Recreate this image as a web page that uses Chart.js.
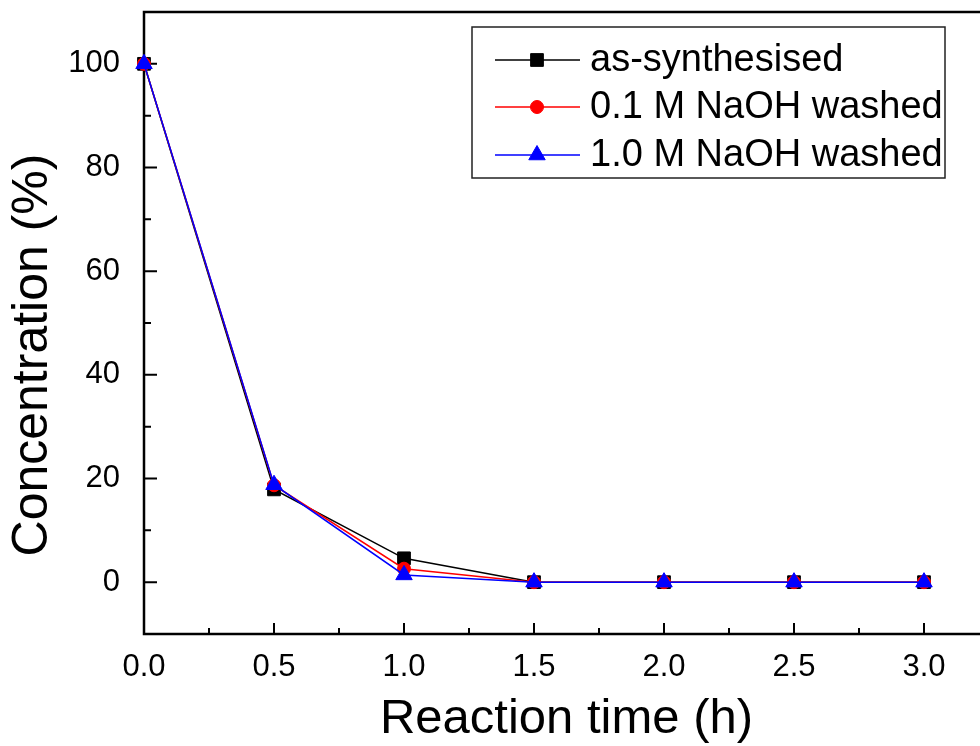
<!DOCTYPE html>
<html>
<head>
<meta charset="utf-8">
<script src="https://cdn.jsdelivr.net/npm/chart.js@4.4.0/dist/chart.umd.min.js"></script>
<style>
  html, body { margin: 0; padding: 0; background: #fff; overflow: hidden; }
  #wrap { width: 1000px; height: 746px; }
</style>
</head>
<body>
<div id="wrap"><canvas id="chart" width="1000" height="746"></canvas></div>
<script>
// reaction time (h) and remaining concentration (%)
const times = [0, 0.5, 1.0, 1.5, 2.0, 2.5, 3.0];
const asSynthesised = [100, 17.9, 4.6, 0, 0, 0, 0];
const naoh01Washed = [100, 18.7, 2.6, 0, 0, 0, 0];
const naoh10Washed = [100, 18.8, 1.4, 0, 0, 0, 0];
const seriesNames = ['as-synthesised', '0.1 M NaOH washed', '1.0 M NaOH washed'];

const xMajor = [0, 0.5, 1.0, 1.5, 2.0, 2.5, 3.0];
const xMinor = [0.25, 0.75, 1.25, 1.75, 2.25, 2.75, 3.25];
const yMajor = [0, 20, 40, 60, 80, 100];
const yMinor = [10, 30, 50, 70, 90];

const FONT = '"Liberation Sans", Arial, sans-serif';

const pts = (arr) => times.map((t, i) => ({ x: t, y: arr[i] }));

const frameTicks = {
  id: 'frameTicks',
  beforeDatasetsDraw(chart) {
    const { ctx, chartArea: a, scales: { x, y } } = chart;
    ctx.save();
    ctx.strokeStyle = '#000';
    ctx.lineWidth = 2.5;
    ctx.strokeRect(a.left, a.top, a.right - a.left, a.bottom - a.top);
    ctx.lineWidth = 2;
    ctx.beginPath();
    xMajor.forEach(v => { const px = x.getPixelForValue(v); ctx.moveTo(px, a.bottom); ctx.lineTo(px, a.bottom - 11); });
    xMinor.forEach(v => { const px = x.getPixelForValue(v); ctx.moveTo(px, a.bottom); ctx.lineTo(px, a.bottom - 6); });
    yMajor.forEach(v => { const py = y.getPixelForValue(v); ctx.moveTo(a.left, py); ctx.lineTo(a.left + 13, py); });
    yMinor.forEach(v => { const py = y.getPixelForValue(v); ctx.moveTo(a.left, py); ctx.lineTo(a.left + 7, py); });
    ctx.stroke();

    // y title
    ctx.fillStyle = '#000';
    ctx.font = '50px ' + FONT;
    ctx.textAlign = 'center';
    ctx.textBaseline = 'middle';
    ctx.translate(33, 355);
    ctx.rotate(-Math.PI / 2);
    ctx.fillText('Concentration (%)', 0, 0);
    ctx.restore();
  }
};

const boxLegend = {
  id: 'boxLegend',
  afterDraw(chart) {
    const { ctx } = chart;
    ctx.save();
    ctx.strokeStyle = '#222';
    ctx.lineWidth = 1.5;
    ctx.strokeRect(472, 27, 473, 151);
    const rows = [60, 107, 155];
    chart.data.datasets.forEach((ds, i) => {
      const yy = rows[i];
      ctx.strokeStyle = ds.borderColor;
      ctx.lineWidth = ds.borderWidth;
      ctx.beginPath();
      ctx.moveTo(495, yy);
      ctx.lineTo(580, yy);
      ctx.stroke();
      ctx.fillStyle = ds.pointBackgroundColor;
      ctx.strokeStyle = ds.borderColor;
      ctx.lineWidth = 1;
      Chart.helpers.drawPoint(ctx, { pointStyle: ds.pointStyle, radius: ds.pointRadius, borderWidth: 1, rotation: 0 }, 537, yy);
      ctx.fillStyle = '#000';
      ctx.font = '38px ' + FONT;
      ctx.textAlign = 'left';
      ctx.textBaseline = 'middle';
      ctx.fillText(ds.label, 590, yy + 1);
    });
    ctx.restore();
  }
};

const mkSet = (label, data, color, style, r, order) => ({
  label, data: pts(data), order,
  borderColor: color, backgroundColor: color,
  pointBackgroundColor: color, pointBorderColor: color,
  borderWidth: 1.5, pointStyle: style, pointRadius: r, pointBorderWidth: 1,
  tension: 0, clip: false
});

const noPad = s => { s.paddingTop = 0; s.paddingBottom = 0; s.paddingLeft = 0; s.paddingRight = 0; };

new Chart(document.getElementById('chart'), {
  type: 'line',
  data: {
    datasets: [
      mkSet(seriesNames[0], asSynthesised, '#000000', 'rect', 9, 2),
      mkSet(seriesNames[1], naoh01Washed, '#ff0000', 'circle', 6.5, 1),
      mkSet(seriesNames[2], naoh10Washed, '#0000ff', 'triangle', 9.5, 0)
    ]
  },
  options: {
    responsive: false,
    animation: false,
    layout: { padding: { top: 12, right: 11, left: 0, bottom: 0 } },
    plugins: { legend: { display: false }, tooltip: { enabled: false } },
    scales: {
      x: {
        type: 'linear', min: 0, max: 3.25,
        grid: { display: false }, border: { display: false },
        afterBuildTicks: s => { s.ticks = xMajor.map(v => ({ value: v })); },
        afterFit: s => { s.height = 112; noPad(s); },
        ticks: {
          color: '#000', padding: 7, maxRotation: 0,
          font: { family: FONT, size: 31 },
          callback: v => v.toFixed(1)
        },
        title: {
          display: true, text: 'Reaction time (h)', color: '#000',
          font: { family: FONT, size: 49 }, padding: { top: 0, bottom: -3 }
        }
      },
      y: {
        type: 'linear', min: -10, max: 110,
        grid: { display: false }, border: { display: false },
        afterBuildTicks: s => { s.ticks = yMajor.map(v => ({ value: v })); },
        afterFit: s => { s.width = 144; noPad(s); },
        ticks: {
          color: '#000', padding: 16,
          font: { family: FONT, size: 31 },
          callback: v => String(v)
        }
      }
    }
  },
  plugins: [frameTicks, boxLegend]
});
</script>
</body>
</html>
